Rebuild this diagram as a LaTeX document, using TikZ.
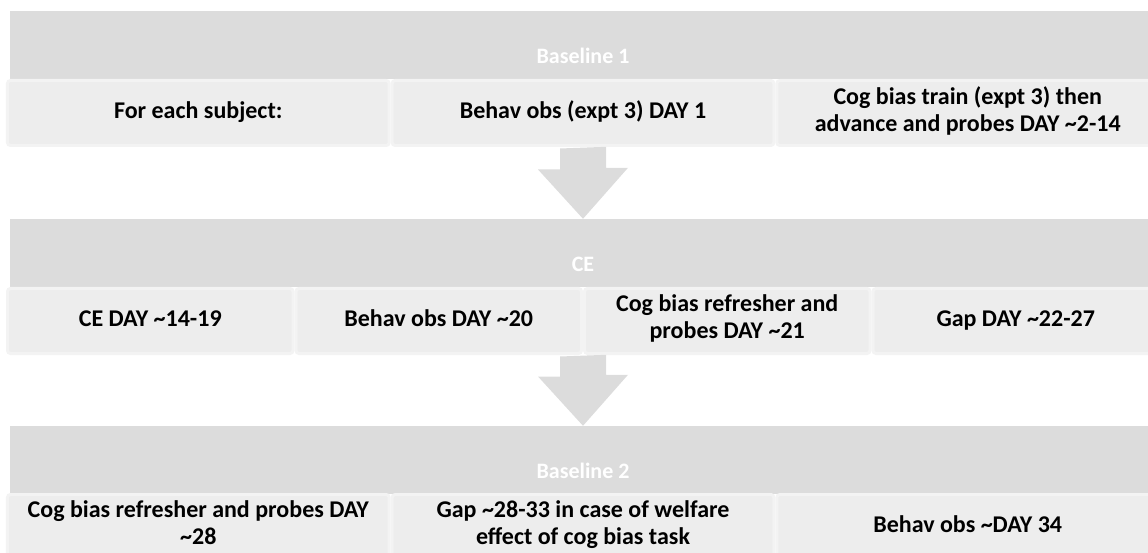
\documentclass[tikz,border=0pt]{standalone}
\usepackage{fontspec}
\setmainfont{Carlito}
\usetikzlibrary{calc}
\definecolor{bandgray}{HTML}{DCDCDC}
\definecolor{cellgray}{HTML}{EDEDED}
\definecolor{edgegray}{HTML}{F3F3F3}

\begin{document}
\begin{tikzpicture}[x=1pt,y=-1pt,
  band/.style={fill=bandgray,minimum width=1146pt,minimum height=68pt,inner sep=0pt},
  title/.style={text=white,font=\fontsize{22}{26}\selectfont\bfseries},
  cell/.style={fill=cellgray,draw=edgegray,line width=3pt,rounded corners=3pt,
    minimum height=65pt,inner sep=0pt,align=center,
    font=\fontsize{24}{27}\selectfont\bfseries,
    execute at begin node=\strut,execute at end node=\strut},
  thirdcell/.style={cell,minimum width=381.7pt},
  quartercell/.style={cell,minimum width=285.5pt}]
\useasboundingbox (0,0) rectangle (1148,553);
\coordinate (P1) at (583,45);
\coordinate (P2) at (583,253);
\coordinate (P3) at (583,460);
\node[band] (h1) at (P1) {};
\node[band] (h2) at (P2) {};
\node[band] (h3) at (P3) {};
\node[title] (t1) at ($(P1)+(0,11)$) {Baseline 1};
\node[title] (t2) at ($(P2)+(0,11)$) {CE};
\node[title] (t3) at ($(P3)+(0,11)$) {Baseline 2};
\node[thirdcell] (a1) at (198.3,113) {For each subject:};
\node[thirdcell] (a2) at (583,113) {Behav obs (expt 3) DAY 1};
\node[thirdcell] (a3) at (967.7,113) {Cog bias train (expt 3) then\\advance and probes DAY \textasciitilde2-14};
\node[quartercell] (b1) at (150.25,321) {CE DAY \textasciitilde14-19};
\node[quartercell] (b2) at (438.75,321) {Behav obs DAY \textasciitilde20};
\node[quartercell] (b3) at (727.25,321) {Cog bias refresher and\\probes DAY \textasciitilde21};
\node[quartercell] (b4) at (1015.75,321) {Gap DAY \textasciitilde22-27};
\node[thirdcell] (c1) at (198.3,527) {Cog bias refresher and probes DAY\\\textasciitilde28};
\node[thirdcell] (c2) at (583,527) {Gap \textasciitilde28-33 in case of welfare\\effect of cog bias task};
\node[thirdcell] (c3) at (967.7,527) {Behav obs \textasciitilde DAY 34};
\fill[bandgray] ([shift={(-23,1.5)}]a2.south) -- ++(0,21) -- ++(-22,0) -- (h2.north)
  -- ++(45,-51) -- ++(-22,0) -- ++(0,-21) -- cycle;
\fill[bandgray] ([shift={(-23,1.5)}]h2.south |- b2.south) -- ++(0,20) -- ++(-22,0) -- (h3.north)
  -- ++(45,-51) -- ++(-22,0) -- ++(0,-20) -- cycle;
\end{tikzpicture}
\end{document}
